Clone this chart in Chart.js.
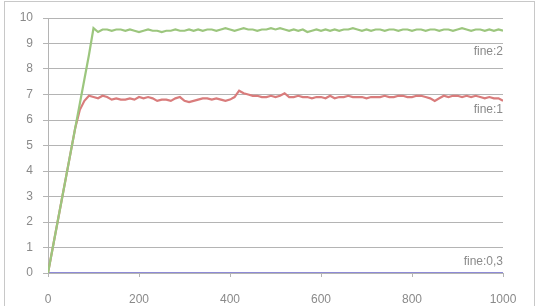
<!DOCTYPE html>
<html>
<head>
<meta charset="utf-8">
<script src="https://cdn.jsdelivr.net/npm/chart.js@4"></script>
<style>
  html, body { margin: 0; padding: 0; background: #fff; }
  #wrap { width: 541px; height: 306px; position: relative; }
</style>
</head>
<body>
<div id="wrap"><canvas id="c" width="541" height="306"></canvas></div>
<script>
// x positions shared by the two noisy series (step 10)
const steps = [];
for (let i = 0; i <= 1000; i += 10) steps.push(i);

const fine2 = [
  0, 0.95, 1.9, 2.85, 3.8, 4.75, 5.7, 6.65, 7.6, 8.55,
  9.6, 9.45, 9.55, 9.55, 9.5, 9.55, 9.55, 9.5, 9.55, 9.5,
  9.45, 9.5, 9.55, 9.5, 9.5, 9.45, 9.5, 9.5, 9.55, 9.5,
  9.5, 9.55, 9.5, 9.55, 9.5, 9.55, 9.55, 9.5, 9.55, 9.6,
  9.55, 9.5, 9.55, 9.6, 9.55, 9.55, 9.5, 9.55, 9.55, 9.6,
  9.55, 9.6, 9.55, 9.5, 9.55, 9.5, 9.55, 9.45, 9.5, 9.55,
  9.5, 9.55, 9.5, 9.55, 9.5, 9.55, 9.55, 9.6, 9.55, 9.5,
  9.55, 9.5, 9.55, 9.55, 9.5, 9.55, 9.55, 9.5, 9.55, 9.55,
  9.5, 9.55, 9.55, 9.5, 9.55, 9.55, 9.5, 9.55, 9.55, 9.5,
  9.55, 9.6, 9.55, 9.5, 9.55, 9.55, 9.5, 9.55, 9.5, 9.55,
  9.5
];

const fine1 = [
  0, 0.95, 1.9, 2.85, 3.8, 4.75, 5.7, 6.4, 6.75, 6.95,
  6.9, 6.85, 6.95, 6.9, 6.8, 6.85, 6.8, 6.8, 6.85, 6.8,
  6.9, 6.85, 6.9, 6.85, 6.75, 6.8, 6.8, 6.75, 6.85, 6.9,
  6.75, 6.7, 6.75, 6.8, 6.85, 6.85, 6.8, 6.85, 6.8, 6.75,
  6.8, 6.9, 7.15, 7.05, 7.0, 6.95, 6.95, 6.9, 6.9, 6.95,
  6.9, 6.95, 7.05, 6.9, 6.9, 6.95, 6.9, 6.9, 6.85, 6.9,
  6.9, 6.85, 6.95, 6.85, 6.9, 6.9, 6.95, 6.9, 6.9, 6.9,
  6.85, 6.9, 6.9, 6.9, 6.95, 6.9, 6.9, 6.95, 6.95, 6.9,
  6.9, 6.95, 6.95, 6.9, 6.85, 6.75, 6.85, 6.95, 6.9, 6.95,
  6.95, 6.9, 6.95, 6.9, 6.95, 6.9, 6.85, 6.9, 6.85, 6.85,
  6.75
];

const fine03X = [0, 1000];
const fine03 = [0, 0];

const seriesNames = ['fine:2', 'fine:1', 'fine:0,3'];
const labelValues = [8.67, 6.4, 0.43];   // y value where each text label sits

const xTicks = [0, 200, 400, 600, 800, 1000];
const yTicks = [0, 1, 2, 3, 4, 5, 6, 7, 8, 9, 10];

const toPoints = (xs, ys) => xs.map((x, i) => ({ x, y: ys[i] }));

const textColor = '#8a8a8a';
const gridColor = '#b4b4b4';
const fontFamily = 'Liberation Sans';

const annotate = {
  id: 'annotate',
  beforeDraw(chart) {
    const ctx = chart.ctx;
    ctx.save();
    ctx.fillStyle = '#fff';
    ctx.fillRect(0, 0, chart.width, chart.height);
    ctx.strokeStyle = '#c8c8c8';
    ctx.lineWidth = 1;
    ctx.strokeRect(4.5, 1.5, 530, 320);
    ctx.restore();
  },
  afterDatasetsDraw(chart) {
    const ctx = chart.ctx;
    const xs = chart.scales.x, ys = chart.scales.y;
    ctx.save();
    ctx.font = '12px "' + fontFamily + '"';
    ctx.fillStyle = textColor;
    ctx.textAlign = 'right';
    ctx.textBaseline = 'middle';
    seriesNames.forEach((name, i) => {
      ctx.fillText(name, xs.getPixelForValue(1000), ys.getPixelForValue(labelValues[i]));
    });
    ctx.restore();
  }
};

new Chart(document.getElementById('c'), {
  type: 'line',
  data: {
    datasets: [
      {
        label: seriesNames[0],
        data: toPoints(steps, fine2),
        borderColor: '#9cc67e',
        borderWidth: 2.2,
        pointRadius: 0,
        tension: 0
      },
      {
        label: seriesNames[1],
        data: toPoints(steps, fine1),
        borderColor: '#d97c7c',
        borderWidth: 2.2,
        pointRadius: 0,
        tension: 0
      },
      {
        label: seriesNames[2],
        data: toPoints(fine03X, fine03),
        borderColor: '#8d8ad6',
        borderWidth: 2.2,
        pointRadius: 0,
        tension: 0
      }
    ]
  },
  options: {
    animation: false,
    responsive: false,
    layout: { padding: { top: 18, right: 38, left: 0, bottom: 0 } },
    plugins: {
      legend: { display: false },
      tooltip: { enabled: false }
    },
    scales: {
      x: {
        type: 'linear',
        min: 0,
        max: 1000,
        afterBuildTicks: (s) => { s.ticks = xTicks.map(v => ({ value: v })); },
        afterFit: (s) => { s.height = 33; },
        grid: { drawOnChartArea: false, drawTicks: true, tickLength: 4, color: gridColor },
        border: { color: gridColor },
        ticks: {
          color: textColor,
          font: { family: fontFamily, size: 12 },
          padding: 15,
          maxRotation: 0,
          callback: (v) => String(v)
        }
      },
      y: {
        min: 0,
        max: 10,
        afterBuildTicks: (s) => { s.ticks = yTicks.map(v => ({ value: v })); },
        afterFit: (s) => { s.width = 48; },
        grid: { color: gridColor, tickLength: 5 },
        border: { color: gridColor },
        ticks: { color: textColor, font: { family: fontFamily, size: 12 }, padding: 10 }
      }
    }
  },
  plugins: [annotate]
});
</script>
</body>
</html>
